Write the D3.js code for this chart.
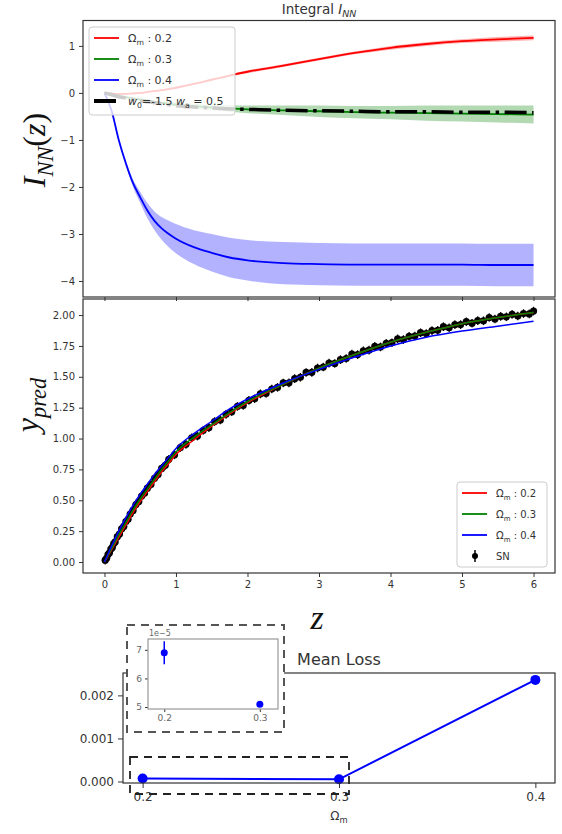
<!DOCTYPE html>
<html>
<head>
<meta charset="utf-8">
<script src="https://cdn.jsdelivr.net/npm/d3@7"></script>
<style>
  body { margin: 0; background: #fff; }
  svg { font-family: "DejaVu Sans", sans-serif; fill: #333; }
</style>
</head>
<body>
<svg id="chart" width="562" height="834"></svg>
<script>
// ---------------------------------------------------------------------------
// Data
// ---------------------------------------------------------------------------
const zGrid = [0, 0.1, 0.2, 0.3, 0.4, 0.5, 0.6, 0.7, 0.8, 0.9, 1.0, 1.25, 1.5, 1.75, 2, 2.5, 3, 3.5, 4, 4.5, 5, 5.5, 6];

// Integral I_NN(z), mean and half band width
const intRed     = [0, -0.01, -0.02, -0.02, -0.01, 0.0, 0.02, 0.04, 0.06, 0.08, 0.11, 0.19, 0.28, 0.37, 0.45, 0.58, 0.72, 0.85, 0.96, 1.04, 1.10, 1.14, 1.17];
const intRedErr  = [0, 0.01, 0.01, 0.01, 0.01, 0.01, 0.01, 0.01, 0.02, 0.02, 0.02, 0.02, 0.02, 0.02, 0.03, 0.03, 0.03, 0.03, 0.04, 0.04, 0.04, 0.05, 0.05];
const intGreen   = [0, -0.03, -0.06, -0.09, -0.12, -0.14, -0.16, -0.19, -0.21, -0.23, -0.25, -0.28, -0.31, -0.33, -0.35, -0.37, -0.39, -0.41, -0.42, -0.43, -0.44, -0.45, -0.46];
const intGreenErr = [0, 0.01, 0.01, 0.02, 0.02, 0.02, 0.03, 0.03, 0.03, 0.04, 0.04, 0.05, 0.06, 0.07, 0.08, 0.10, 0.12, 0.13, 0.14, 0.16, 0.17, 0.18, 0.19];
const intBlue    = [0, -0.38, -1.0, -1.5, -1.92, -2.22, -2.5, -2.72, -2.88, -3.0, -3.1, -3.28, -3.4, -3.5, -3.56, -3.62, -3.64, -3.65, -3.65, -3.65, -3.65, -3.66, -3.66];
const intBlueErr = [0, 0.01, 0.03, 0.05, 0.08, 0.12, 0.16, 0.2, 0.24, 0.28, 0.31, 0.36, 0.4, 0.42, 0.43, 0.45, 0.45, 0.45, 0.45, 0.45, 0.45, 0.45, 0.45];
const intW0Wa    = [0, -0.04, -0.08, -0.11, -0.14, -0.17, -0.19, -0.21, -0.23, -0.25, -0.27, -0.3, -0.32, -0.34, -0.35, -0.37, -0.38, -0.39, -0.4, -0.4, -0.41, -0.41, -0.42];

// Predicted y
const predRed   = [0, 0.10, 0.20, 0.30, 0.40, 0.49, 0.57, 0.65, 0.73, 0.80, 0.87, 0.99, 1.10, 1.20, 1.29, 1.44, 1.57, 1.68, 1.78, 1.86, 1.93, 1.98, 2.02];
const predGreen = [0, 0.11, 0.22, 0.32, 0.42, 0.51, 0.59, 0.67, 0.75, 0.82, 0.89, 1.01, 1.11, 1.21, 1.30, 1.44, 1.57, 1.68, 1.78, 1.86, 1.93, 1.98, 2.02];
const predBlue  = [0, 0.13, 0.25, 0.36, 0.46, 0.55, 0.63, 0.71, 0.78, 0.85, 0.92, 1.04, 1.14, 1.24, 1.32, 1.45, 1.56, 1.66, 1.75, 1.82, 1.87, 1.91, 1.95];

// Supernovae
const snZ = [0.01, 0.03, 0.05, 0.07, 0.09, 0.11, 0.13, 0.15, 0.18, 0.21, 0.24, 0.27, 0.3, 0.33, 0.36, 0.4, 0.44, 0.48, 0.52, 0.56,
             0.6, 0.65, 0.7, 0.75, 0.8, 0.85,
             0.9, 0.98, 1.06, 1.14, 1.22, 1.3, 1.38, 1.46, 1.54, 1.62, 1.7, 1.78, 1.86, 1.94, 2.02, 2.1, 2.18, 2.26, 2.34, 2.42,
             2.5, 2.58, 2.66, 2.74, 2.82, 2.9, 2.98, 3.06, 3.14, 3.22, 3.3, 3.38, 3.46, 3.54, 3.62, 3.7, 3.78, 3.86, 3.94, 4.02,
             4.1, 4.18, 4.26, 4.34, 4.42, 4.5, 4.58, 4.66, 4.74, 4.82, 4.9, 4.98, 5.06, 5.14, 5.22, 5.3, 5.38, 5.46, 5.54, 5.62,
             5.7, 5.78, 5.86, 5.94, 6.0];
const snY = [0.015, 0.03, 0.06, 0.075, 0.105, 0.118, 0.15, 0.163, 0.205, 0.226, 0.268, 0.288, 0.328, 0.346, 0.388, 0.418, 0.465, 0.49, 0.534, 0.556,
             0.598, 0.628, 0.678, 0.708, 0.758, 0.783,
             0.832, 0.868, 0.926, 0.953, 1.006, 1.02, 1.065, 1.088, 1.138, 1.15, 1.196, 1.217, 1.26, 1.268, 1.309, 1.322, 1.362, 1.365, 1.401, 1.414,
             1.45, 1.451, 1.485, 1.496, 1.535, 1.536, 1.571, 1.579, 1.611, 1.608, 1.639, 1.648, 1.683, 1.68, 1.71, 1.716, 1.746, 1.742, 1.771, 1.776,
             1.808, 1.801, 1.828, 1.83, 1.857, 1.85, 1.874, 1.876, 1.906, 1.897, 1.922, 1.923, 1.946, 1.934, 1.955, 1.954, 1.98, 1.968, 1.989, 1.986,
             2.006, 1.992, 2.012, 2.009, 2.032];
const snErr = 0.035;

// Mean loss vs Omega_m
const lossOm  = [0.2, 0.3, 0.4];
const lossVal = [6.9e-5, 5.1e-5, 0.00236];
const lossErr = [0.4e-5, 0.05e-5, 0.4e-5];

const omLabels = ['0.2', '0.3', '0.4'];

// ---------------------------------------------------------------------------
// Helpers
// ---------------------------------------------------------------------------
const RED = '#ff0000', GREEN = '#008000', BLUE = '#0000ff', AXIS = '#333';
const svg = d3.select('#chart');

// text with subscripts: parts = [{t, sub, italic}]
function richText(text, parts, size) {
  let shift = 0;
  parts.forEach(p => {
    const target = p.sub ? size * 0.25 : 0;
    const ts = text.append('tspan')
      .text(p.t)
      .attr('font-size', p.sub ? size * 0.7 : size)
      .attr('dy', target - shift);
    if (p.italic) ts.attr('font-style', 'italic');
    shift = target;
  });
  return text;
}

function addAxis(axis, transform, fontSize) {
  const a = svg.append('g').attr('transform', transform).call(axis)
    .attr('font-family', 'DejaVu Sans').attr('font-size', fontSize);
  a.select('.domain').remove();
  a.selectAll('.tick line').attr('stroke', AXIS);
  a.selectAll('.tick text').attr('fill', AXIS);
  return a;
}

function frame(x, y, color, width) {
  const [x0, x1] = x.range(), [y0, y1] = y.range();
  svg.append('rect')
    .attr('x', x0).attr('y', y1).attr('width', x1 - x0).attr('height', y0 - y1)
    .attr('fill', 'none').attr('stroke', color || AXIS).attr('stroke-width', width || 1.2);
}

function legend(x0, y0, w, h, entries, fontSize) {
  const g = svg.append('g');
  g.append('rect').attr('x', x0).attr('y', y0).attr('width', w).attr('height', h)
    .attr('rx', 3).attr('fill', '#fff').attr('fill-opacity', 0.8)
    .attr('stroke', '#ccc').attr('stroke-width', 1);
  entries.forEach((e, i) => {
    const cy = y0 + 11 + i * 21;
    if (e.marker) {
      g.append('line').attr('x1', x0 + 18).attr('x2', x0 + 18).attr('y1', cy - 6).attr('y2', cy + 6)
        .attr('stroke', '#000').attr('stroke-width', 1.5);
      g.append('circle').attr('cx', x0 + 18).attr('cy', cy).attr('r', 3).attr('fill', '#000');
    } else {
      g.append('line').attr('x1', x0 + 5).attr('x2', x0 + 30).attr('y1', cy).attr('y2', cy)
        .attr('stroke', e.color).attr('stroke-width', e.width || 1.8)
        .attr('stroke-dasharray', e.dash || null);
    }
    richText(g.append('text').attr('x', x0 + 39).attr('y', cy + 4).attr('fill', '#333'), e.label, fontSize);
  });
}

const omLabel = v => [{ t: 'Ω' }, { t: 'm', sub: true }, { t: ' : ' + v }];

// ---------------------------------------------------------------------------
// Panel 1 : Integral I_NN
// ---------------------------------------------------------------------------
const x1 = d3.scaleLinear().domain([-0.3, 6.3]).range([83, 555]);
const y1 = d3.scaleLinear().domain([-4.34, 1.54]).range([297, 20.5]);

const intSeries = [
  { mean: intRed, err: intRedErr, color: RED },
  { mean: intGreen, err: intGreenErr, color: GREEN },
  { mean: intBlue, err: intBlueErr, color: BLUE }
];

const area1 = d3.area().curve(d3.curveMonotoneX)
  .x((d, i) => x1(zGrid[i]))
  .y0(d => y1(d[0] - d[1])).y1(d => y1(d[0] + d[1]));
const line1 = d3.line().curve(d3.curveMonotoneX).x((d, i) => x1(zGrid[i])).y(d => y1(d));

intSeries.forEach(s => {
  svg.append('path').attr('d', area1(s.mean.map((m, i) => [m, s.err[i]])))
    .attr('fill', s.color).attr('fill-opacity', 0.3).attr('stroke', 'none');
  svg.append('path').attr('d', line1(s.mean))
    .attr('fill', 'none').attr('stroke', s.color).attr('stroke-width', 1.8);
});
svg.append('path').attr('d', line1(intW0Wa))
  .attr('fill', 'none').attr('stroke', '#000').attr('stroke-width', 3.5)
  .attr('stroke-dasharray', '22,5.5,3.5,5.5');

addAxis(d3.axisLeft(y1).tickValues([-4, -3, -2, -1, 0, 1]).tickFormat(d3.format('d')).tickSize(4).tickPadding(4), 'translate(83,0)', 10);
addAxis(d3.axisBottom(x1).tickValues([0, 1, 2, 3, 4, 5, 6]).tickFormat('').tickSize(4), 'translate(0,297)', 10);

legend(89, 27, 146, 88, [
  { color: RED, label: omLabel('0.2') },
  { color: GREEN, label: omLabel('0.3') },
  { color: BLUE, label: omLabel('0.4') },
  { color: '#000', width: 4, dash: '22,5.5,3.5,5.5',
    label: [{ t: 'w', italic: true }, { t: '0', sub: true }, { t: '=-1.5 ' }, { t: 'w', italic: true }, { t: 'a', sub: true }, { t: ' = 0.5' }] }
], 11);
frame(x1, y1);

richText(svg.append('text').attr('x', 319).attr('y', 14).attr('text-anchor', 'middle').attr('fill', '#333'),
  [{ t: 'Integral ' }, { t: 'I', italic: true }, { t: 'NN', sub: true, italic: true }], 13.5);

richText(svg.append('text').attr('transform', 'translate(45,150) rotate(-90)').attr('text-anchor', 'middle')
  .attr('font-family', 'Liberation Serif').attr('fill', '#111'),
  [{ t: 'I', italic: true }, { t: 'NN', sub: true, italic: true }, { t: '(' }, { t: 'z', italic: true }, { t: ')' }], 32);

// ---------------------------------------------------------------------------
// Panel 2 : y_pred
// ---------------------------------------------------------------------------
const y2 = d3.scaleLinear().domain([-0.089, 2.13]).range([573, 299]);
const line2 = d3.line().curve(d3.curveMonotoneX).x((d, i) => x1(zGrid[i])).y(d => y2(d));

const sn = svg.append('g');
snZ.forEach((z, i) => {
  sn.append('line').attr('x1', x1(z)).attr('x2', x1(z))
    .attr('y1', y2(snY[i] - snErr)).attr('y2', y2(snY[i] + snErr))
    .attr('stroke', '#000').attr('stroke-width', 1.2);
  sn.append('circle').attr('cx', x1(z)).attr('cy', y2(snY[i])).attr('r', 3.6).attr('fill', '#000');
});
[[predRed, RED], [predGreen, GREEN], [predBlue, BLUE]].forEach(([vals, c]) => {
  svg.append('path').attr('d', line2(vals)).attr('fill', 'none').attr('stroke', c).attr('stroke-width', 1.5);
});

addAxis(d3.axisLeft(y2).tickValues(d3.range(0, 2.01, 0.25)).tickFormat(d3.format('.2f')).tickSize(4).tickPadding(4), 'translate(83,0)', 10);
addAxis(d3.axisBottom(x1).tickValues([0, 1, 2, 3, 4, 5, 6]).tickFormat(d3.format('d')).tickSize(4).tickPadding(4), 'translate(0,573)', 10);

legend(457, 482, 90, 85, [
  { color: RED, label: omLabel('0.2') },
  { color: GREEN, label: omLabel('0.3') },
  { color: BLUE, label: omLabel('0.4') },
  { marker: true, label: [{ t: 'SN' }] }
], 10);
frame(x1, y2);

richText(svg.append('text').attr('transform', 'translate(38,405) rotate(-90)').attr('text-anchor', 'middle')
  .attr('font-family', 'Liberation Serif').attr('fill', '#111'),
  [{ t: 'y', italic: true }, { t: 'pred', sub: true, italic: true }], 32);

svg.append('text').attr('x', 317).attr('y', 629).attr('text-anchor', 'middle')
  .attr('font-family', 'Liberation Serif').attr('font-style', 'italic').attr('font-size', 34)
  .attr('fill', '#111').text('z');

// ---------------------------------------------------------------------------
// Panel 3 : Mean loss
// ---------------------------------------------------------------------------
const x3 = d3.scaleLinear().domain([0.19, 0.41]).range([123, 555]);
const y3 = d3.scaleLinear().domain([-0.000035, 0.00252]).range([783, 673]);

svg.append('path').attr('d', d3.line().x((d, i) => x3(lossOm[i])).y(d => y3(d))(lossVal))
  .attr('fill', 'none').attr('stroke', BLUE).attr('stroke-width', 2);
lossOm.forEach((om, i) => {
  svg.append('circle').attr('cx', x3(om)).attr('cy', y3(lossVal[i])).attr('r', 5).attr('fill', BLUE);
});

addAxis(d3.axisLeft(y3).tickValues([0, 0.001, 0.002]).tickFormat(d3.format('.3f')).tickSize(5).tickPadding(4), 'translate(123,0)', 12);
addAxis(d3.axisBottom(x3).tickValues(lossOm).tickFormat((d, i) => omLabels[i]).tickSize(5).tickPadding(4), 'translate(0,783)', 12);
frame(x3, y3);

svg.append('text').attr('x', 339).attr('y', 665).attr('text-anchor', 'middle').attr('font-size', 16)
  .attr('fill', '#333').text('Mean Loss');
richText(svg.append('text').attr('x', 339).attr('y', 820).attr('text-anchor', 'middle').attr('fill', '#333'),
  [{ t: 'Ω' }, { t: 'm', sub: true }], 12);

// zoomed region marker
svg.append('rect').attr('x', 130).attr('y', 757).attr('width', 219).attr('height', 37)
  .attr('fill', 'none').attr('stroke', '#222').attr('stroke-width', 1.8).attr('stroke-dasharray', '8,6');

// inset box
svg.append('rect').attr('x', 127).attr('y', 625).attr('width', 157).attr('height', 107)
  .attr('fill', '#fff').attr('stroke', '#555').attr('stroke-width', 2).attr('stroke-dasharray', '8,6');

const xi = d3.scaleLinear().domain([0.183, 0.319]).range([148, 278]);
const yi = d3.scaleLinear().domain([4.93, 7.38]).range([709, 639]);
lossOm.slice(0, 2).forEach((om, i) => {
  svg.append('line').attr('x1', xi(om)).attr('x2', xi(om))
    .attr('y1', yi((lossVal[i] - lossErr[i]) * 1e5)).attr('y2', yi((lossVal[i] + lossErr[i]) * 1e5))
    .attr('stroke', BLUE).attr('stroke-width', 1.5);
  svg.append('circle').attr('cx', xi(om)).attr('cy', yi(lossVal[i] * 1e5)).attr('r', 3.5).attr('fill', BLUE);
});
addAxis(d3.axisLeft(yi).tickValues([5, 6, 7]).tickFormat(d3.format('d')).tickSize(3).tickPadding(3), 'translate(148,0)', 9)
  .selectAll('.tick text').attr('fill', '#666');
addAxis(d3.axisBottom(xi).tickValues(lossOm.slice(0, 2)).tickFormat((d, i) => omLabels[i]).tickSize(3).tickPadding(3), 'translate(0,709)', 9)
  .selectAll('.tick text').attr('fill', '#666');
frame(xi, yi, '#999', 1.2);
svg.append('text').attr('x', 149).attr('y', 636).attr('font-size', 8).attr('fill', '#666').text('1e\u22125');
</script>
</body>
</html>
